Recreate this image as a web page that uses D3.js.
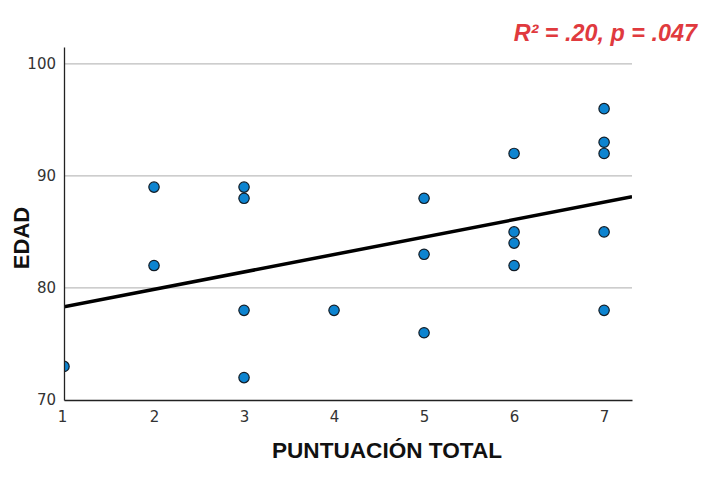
<!DOCTYPE html>
<html lang="es">
<head>
<meta charset="utf-8">
<title>EDAD vs PUNTUACIÓN TOTAL</title>
<script src="https://cdn.jsdelivr.net/npm/d3@7"></script>
<style>
html, body { margin: 0; padding: 0; background: #fff; }
svg { display: block; font-family: "Liberation Sans", Arial, sans-serif; }
.tick text { fill: #333; font-size: 15px; font-family: "DejaVu Sans", sans-serif; }
.grid line { stroke: #bdbdbd; stroke-width: 1.3px; }
</style>
</head>
<body>
<div id="chart"></div>
<script>
// puntos
var puntuacion = [1, 2, 2, 3, 3, 3, 3, 4, 5, 5, 5, 6, 6, 6, 6, 7, 7, 7, 7, 7];
var edad       = [73, 89, 82, 89, 88, 78, 72, 78, 88, 83, 76, 92, 85, 84, 82, 96, 93, 92, 85, 78];
var xTicks = [1, 2, 3, 4, 5, 6, 7];
var yTicks = [70, 80, 90, 100];
var gridValues = [80, 90, 100];
var anotacion = "R\u00b2 = .20, p = .047";

var width = 702, height = 479;
var margin = {left: 64, right: 70, top: 47, bottom: 79};

var x = d3.scaleLinear().domain([1, 7.31]).range([margin.left, width - margin.right]);
var y = d3.scaleLinear().domain([70, 101.5]).range([height - margin.bottom, margin.top]);

var svg = d3.select("#chart").append("svg")
    .attr("width", width)
    .attr("height", height);

// los puntos quedan recortados por el área del gráfico
svg.append("clipPath").attr("id", "area")
  .append("rect")
    .attr("x", x(1)).attr("y", y(101.5))
    .attr("width", x(7.31) - x(1))
    .attr("height", y(70) - y(101.5));

// rejilla horizontal
svg.append("g").attr("class", "grid")
  .selectAll("line").data(gridValues).enter().append("line")
    .attr("x1", x(1)).attr("x2", x(7.31))
    .attr("y1", function(d) { return y(d); })
    .attr("y2", function(d) { return y(d); });

// recta de regresión (mínimos cuadrados)
var n = puntuacion.length;
var mx = d3.mean(puntuacion), my = d3.mean(edad);
var sxy = 0, sxx = 0;
for (var i = 0; i < n; i++) {
  sxy += (puntuacion[i] - mx) * (edad[i] - my);
  sxx += (puntuacion[i] - mx) * (puntuacion[i] - mx);
}
var pendiente = sxy / sxx, corte = my - pendiente * mx;
var xs = [1, 7.31];
svg.append("line")
    .attr("clip-path", "url(#area)")
    .attr("x1", x(xs[0])).attr("y1", y(corte + pendiente * xs[0]))
    .attr("x2", x(xs[1])).attr("y2", y(corte + pendiente * xs[1]))
    .attr("stroke", "#000").attr("stroke-width", 3.5);

// puntos
svg.append("g").attr("clip-path", "url(#area)")
  .selectAll("circle")
    .data(d3.range(n)).enter().append("circle")
    .attr("cx", function(i) { return x(puntuacion[i]); })
    .attr("cy", function(i) { return y(edad[i]); })
    .attr("r", 5.2)
    .attr("fill", "#0d84d0")
    .attr("stroke", "#111c26")
    .attr("stroke-width", 1.2);

// ejes
var xAxis = svg.append("g")
    .attr("transform", "translate(0," + y(70) + ")")
    .call(d3.axisBottom(x).tickValues(xTicks).tickFormat(d3.format("d")).tickSize(0).tickPadding(11));
var yAxis = svg.append("g")
    .attr("transform", "translate(" + x(1) + ",0)")
    .call(d3.axisLeft(y).tickValues(yTicks).tickFormat(d3.format("d")).tickSize(0).tickPadding(8));
xAxis.select(".domain").attr("stroke", "#222").attr("stroke-width", 1.3);
yAxis.select(".domain").attr("stroke", "#222").attr("stroke-width", 1.3);
xAxis.selectAll(".tick text").filter(function(d) { return d === 1; }).attr("dx", -2);

// títulos de ejes
svg.append("text")
    .attr("transform", "translate(29,238) rotate(-90)")
    .attr("text-anchor", "middle")
    .attr("font-size", 22).attr("font-weight", "bold").attr("fill", "#111")
    .text("EDAD");
svg.append("text")
    .attr("x", 387).attr("y", 458)
    .attr("text-anchor", "middle")
    .attr("font-size", 22.6).attr("font-weight", "bold").attr("fill", "#111")
    .text("PUNTUACIÓN TOTAL");

// anotación
svg.append("text")
    .attr("x", 697).attr("y", 41)
    .attr("text-anchor", "end")
    .attr("font-size", 23.4).attr("font-weight", "bold").attr("font-style", "italic")
    .attr("fill", "#e03a3e")
    .text(anotacion);
</script>
</body>
</html>
